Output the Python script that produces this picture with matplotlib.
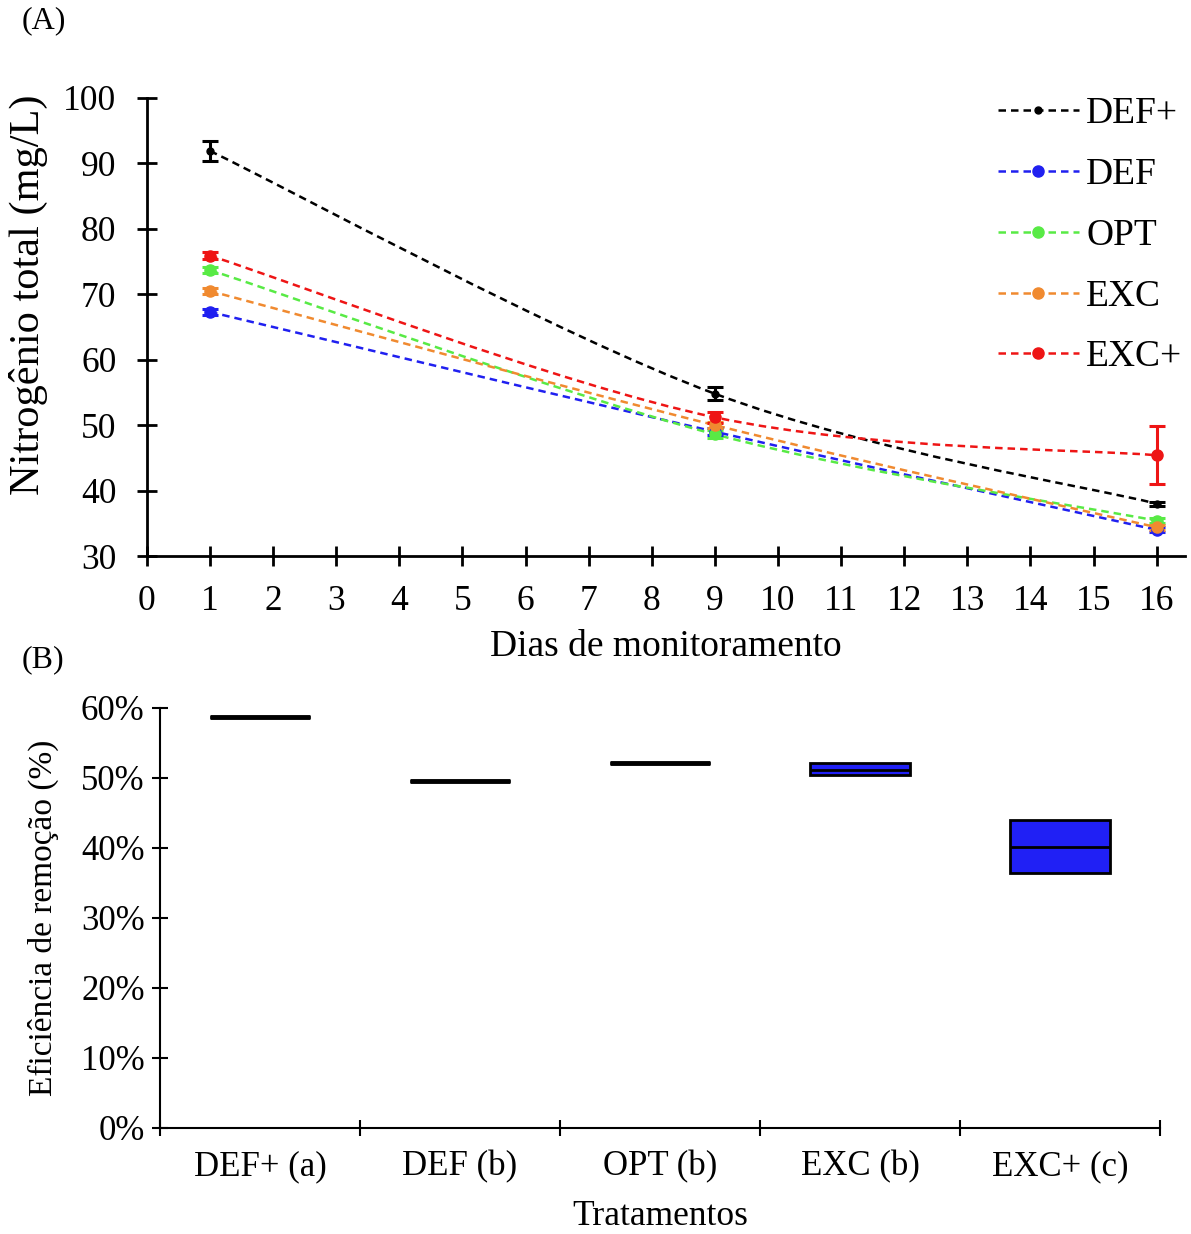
import numpy as np
import matplotlib
matplotlib.use("Agg")
import matplotlib.pyplot as plt
from matplotlib.path import Path
from matplotlib.patches import PathPatch
from matplotlib.lines import Line2D
from matplotlib.ticker import PercentFormatter, MultipleLocator, FixedLocator

plt.rcParams['font.family'] = ['Liberation Serif', 'DejaVu Serif']

# ---- data: panel A (total nitrogen, mg/L) ----
days = [1, 9, 16]
series = ["DEF+", "DEF", "OPT", "EXC", "EXC+"]
n_def_plus = [91.9, 54.8, 38.0]
n_def = [67.3, 49.0, 34.0]
n_opt = [73.7, 48.6, 35.4]
n_exc = [70.5, 50.0, 34.4]
n_exc_plus = [75.9, 51.2, 45.4]
err_def_plus = [1.5, 1.0, 0.3]
err_def = [0.5, 0.5, 0.4]
err_opt = [0.5, 0.6, 0.4]
err_exc = [0.5, 0.5, 0.4]
err_exc_plus = [0.5, 0.8, 4.4]

# ---- data: panel B (removal efficiency) ----
treatments = ["DEF+ (a)", "DEF (b)", "OPT (b)", "EXC (b)", "EXC+ (c)"]
q1 = [0.587, 0.496, 0.521, 0.504, 0.364]
med = [0.587, 0.496, 0.521, 0.511, 0.401]
q3 = [0.587, 0.496, 0.521, 0.521, 0.440]

colors = ["black", "#2020f0", "#58ea45", "#f08a30", "#ee1515"]
values = [n_def_plus, n_def, n_opt, n_exc, n_exc_plus]
errors = [err_def_plus, err_def, err_opt, err_exc, err_exc_plus]
msizes = [5, 8, 8, 8, 8]


def smooth_path(x, y):
    # Excel-style smoothed line as cubic Bezier segments
    x = np.asarray(x, float)
    y = np.asarray(y, float)
    px = np.concatenate([[x[0]], x, [x[-1]]])
    py = np.concatenate([[y[0]], y, [y[-1]]])
    verts = [(x[0], y[0])]
    codes = [Path.MOVETO]
    for i in range(1, len(px) - 2):
        c1 = (px[i] + (px[i + 1] - px[i - 1]) / 6, py[i] + (py[i + 1] - py[i - 1]) / 6)
        c2 = (px[i + 1] - (px[i + 2] - px[i]) / 6, py[i + 1] - (py[i + 2] - py[i]) / 6)
        verts += [c1, c2, (px[i + 1], py[i + 1])]
        codes += [Path.CURVE4] * 3
    return Path(verts, codes)


fig = plt.figure(figsize=(11.91, 12.34), dpi=100)

# ---------------- panel A ----------------
ax1 = fig.add_axes([0.1234, 0.5494, 0.8716, 0.3712])
handles = []
for name, v, e, c, ms in zip(series, values, errors, colors, msizes):
    patch = PathPatch(smooth_path(days, v), facecolor="none", edgecolor=c,
                      lw=1.8, ls=(0, (3, 2)), zorder=2)
    ax1.add_patch(patch)
    ax1.errorbar(days, v, yerr=e, fmt="o", color=c, ms=ms, elinewidth=2.2,
                 capsize=6, capthick=2.2, zorder=3)
    handles.append(Line2D([], [], color=c, ls=(0, (3, 2)), lw=1.8,
                          marker="o", ms=ms))

ax1.set_xlim(0, 16.45)
ax1.set_ylim(30, 100)
ax1.xaxis.set_major_locator(MultipleLocator(1))
ax1.yaxis.set_major_locator(MultipleLocator(10))
for s in ["top", "right"]:
    ax1.spines[s].set_visible(False)
for s in ["left", "bottom"]:
    ax1.spines[s].set_linewidth(2)
ax1.tick_params(axis="both", direction="inout", length=14, width=2,
                labelsize=25.5)
ax1.tick_params(axis="y", pad=15)
ax1.tick_params(axis="x", pad=14)
ax1.set_xlabel("Dias de monitoramento", fontsize=27, labelpad=8)
ax1.set_ylabel("Nitrogênio total (mg/L)", fontsize=30.5)
ax1.yaxis.set_label_coords(-0.095, 0.57)
ax1.legend(handles, series, loc="upper right", frameon=False, fontsize=27,
           handlelength=2.15, labelspacing=0.7, handletextpad=0.2,
           borderaxespad=0.0, bbox_to_anchor=(1.012, 1.035))

fig.text(0.018, 0.983, "(A)", fontsize=23, va="center", ha="left")
fig.text(0.018, 0.465, "(B)", fontsize=23, va="center", ha="left")

# ---------------- panel B ----------------
ax2 = fig.add_axes([0.1343, 0.0859, 0.8397, 0.3404])
pos = np.arange(len(treatments))
stats = []
for name, a, m, b in zip(treatments, q1, med, q3):
    stats.append(dict(label=name, q1=a, med=m, q3=b, whislo=a, whishi=b))
thick = [True, True, True, False, False]
ax2.bxp(stats, positions=pos, widths=0.5, patch_artist=True, showcaps=False,
        showfliers=False,
        boxprops=dict(facecolor="#2020f5", edgecolor="black", lw=2),
        medianprops=dict(color="black", lw=2),
        whiskerprops=dict(color="black", lw=2))
# collapsed boxes show as a single thick line
for p, m, t in zip(pos, med, thick):
    if t:
        ax2.hlines(m, p - 0.25, p + 0.25, colors="black", lw=3.5, zorder=4)

ax2.set_xlim(-0.5, len(treatments) - 0.5)
ax2.set_ylim(0, 0.6)
ax2.yaxis.set_major_locator(MultipleLocator(0.1))
ax2.yaxis.set_major_formatter(PercentFormatter(1.0, decimals=0))
ax2.xaxis.set_major_locator(FixedLocator(np.arange(-0.5, len(treatments), 1.0)))
ax2.xaxis.set_minor_locator(FixedLocator(pos))
ax2.set_xticklabels([], minor=False)
ax2.set_xticklabels(treatments, minor=True)
for s in ["top", "right"]:
    ax2.spines[s].set_visible(False)
for s in ["left", "bottom"]:
    ax2.spines[s].set_linewidth(1.5)
ax2.tick_params(axis="both", which="major", direction="inout", length=12,
                width=1.5, labelsize=25)
ax2.tick_params(axis="y", pad=5)
ax2.tick_params(axis="x", which="minor", length=0, labelsize=25, pad=16)
ax2.set_xlabel("Tratamentos", fontsize=25.5, labelpad=12)
ax2.set_ylabel("Eficiência de remoção (%)", fontsize=24, labelpad=16)

fig.savefig("out.png", dpi=100)
